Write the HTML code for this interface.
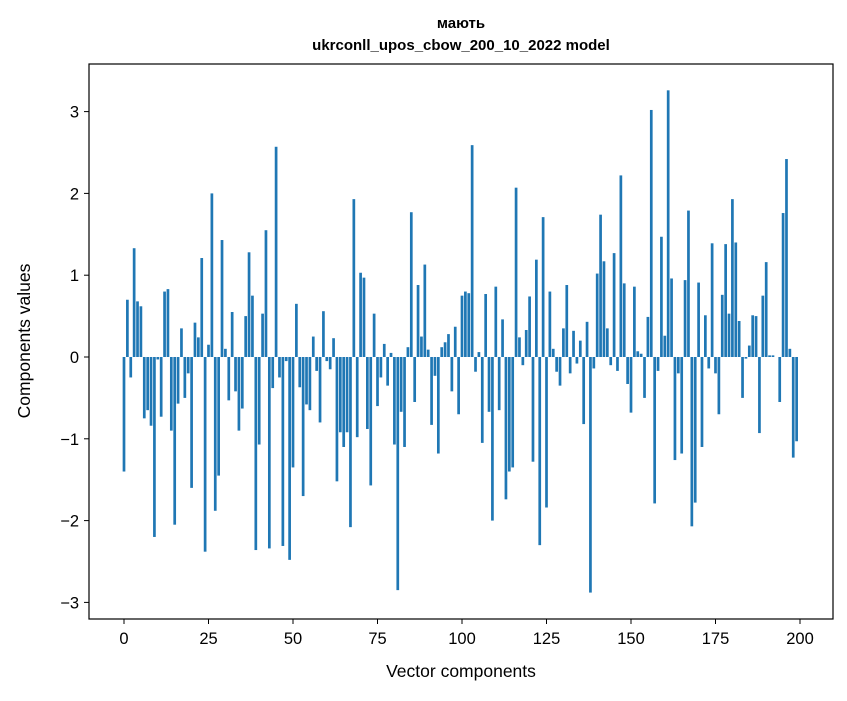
<!DOCTYPE html>
<html><head><meta charset="utf-8"><style>
body{margin:0;background:#fff;font-family:"Liberation Sans","DejaVu Sans",sans-serif}
</style></head><body>
<svg width="847" height="696" xmlns="http://www.w3.org/2000/svg">
<rect width="847" height="696" fill="#fff"/>
<text x="461" y="28" text-anchor="middle" font-weight="bold" font-size="15">мають</text>
<text x="461" y="50" text-anchor="middle" font-weight="bold" font-size="15">ukrconll_upos_cbow_200_10_2022 model</text>
<g id="bars"></g>
<g id="axes"></g>
<rect x="89" y="64" width="744" height="555" fill="none" stroke="#000" stroke-width="1.2"/>
<text x="461" y="677" text-anchor="middle" font-size="17.5">Vector components</text>
<text transform="translate(30,341) rotate(-90)" text-anchor="middle" font-size="17.5">Components values</text>
</svg>
<script>
const values=[-1.4,0.7,-0.25,1.33,0.68,0.62,-0.75,-0.65,-0.84,-2.2,-0.03,-0.73,0.8,0.83,-0.9,-2.05,-0.57,0.35,-0.5,-0.2,-1.6,0.42,0.24,1.21,-2.38,0.15,2.0,-1.88,-1.45,1.43,0.1,-0.53,0.55,-0.42,-0.9,-0.63,0.5,1.28,0.75,-2.36,-1.07,0.53,1.55,-2.34,-0.38,2.57,-0.25,-2.31,-0.05,-2.48,-1.35,0.65,-0.37,-1.7,-0.58,-0.65,0.25,-0.17,-0.8,0.56,-0.05,-0.15,0.23,-1.52,-0.92,-1.1,-0.92,-2.08,1.93,-0.98,1.03,0.97,-0.88,-1.57,0.53,-0.6,-0.25,0.16,-0.35,0.05,-1.07,-2.85,-0.67,-1.1,0.12,1.77,-0.55,0.88,0.25,1.13,0.09,-0.83,-0.23,-1.18,0.12,0.18,0.28,-0.42,0.37,-0.7,0.75,0.8,0.78,2.59,-0.18,0.06,-1.05,0.77,-0.67,-2.0,0.86,-0.65,0.46,-1.74,-1.4,-1.35,2.07,0.24,-0.1,0.33,0.74,-1.28,1.19,-2.3,1.71,-1.84,0.8,0.1,-0.18,-0.35,0.35,0.88,-0.2,0.32,-0.08,0.2,-0.82,0.43,-2.88,-0.14,1.02,1.74,1.17,0.35,-0.1,1.27,-0.17,2.22,0.9,-0.33,-0.68,0.86,0.07,0.04,-0.5,0.49,3.02,-1.79,-0.17,1.47,0.26,3.26,0.96,-1.26,-0.2,-1.18,0.94,1.79,-2.07,-1.78,0.91,-1.1,0.51,-0.14,1.39,-0.2,-0.7,0.76,1.38,0.53,1.93,1.4,0.44,-0.5,-0.02,0.14,0.51,0.5,-0.93,0.75,1.16,0.02,0.02,0.0,-0.55,1.76,2.42,0.1,-1.23,-1.03];
const xTicks=[0,25,50,75,100,125,150,175,200];
const yTicks=[-3,-2,-1,0,1,2,3];
const yTickLabels=["−3","−2","−1","0","1","2","3"];
const NS="http://www.w3.org/2000/svg";
const xs=v=>124+v*(800-124)/200;
const ys=v=>357-v*81.8;
const bars=document.getElementById('bars'),axes=document.getElementById('axes');
values.forEach((v,i)=>{
 const r=document.createElementNS(NS,'rect');
 
 
 const w=0.8*(800-124)/200;
 r.setAttribute('x',xs(i)-w/2);r.setAttribute('width',w);
 r.setAttribute('y',Math.min(ys(v),ys(0)));r.setAttribute('height',Math.abs(ys(v)-ys(0)));
 r.setAttribute('fill','#1f77b4');bars.appendChild(r);
});
xTicks.forEach(t=>{
 const l=document.createElementNS(NS,'line');
 
 
 l.setAttribute('x1',xs(t));l.setAttribute('x2',xs(t));l.setAttribute('y1',619);l.setAttribute('y2',624);l.setAttribute('stroke','#000');axes.appendChild(l);
 const tx=document.createElementNS(NS,'text');
 
 
 tx.setAttribute('x',xs(t));tx.setAttribute('y',644);tx.setAttribute('text-anchor','middle');tx.setAttribute('font-size','16.5');tx.textContent=t;axes.appendChild(tx);
});
yTicks.forEach((t,i)=>{
 const l=document.createElementNS(NS,'line');
 
 
 l.setAttribute('x1',84);l.setAttribute('x2',89);l.setAttribute('y1',ys(t));l.setAttribute('y2',ys(t));l.setAttribute('stroke','#000');axes.appendChild(l);
 const tx=document.createElementNS(NS,'text');
 
 
 tx.setAttribute('x',79);tx.setAttribute('y',ys(t)+6);tx.setAttribute('text-anchor','end');tx.setAttribute('font-size','16.5');tx.textContent=yTickLabels[i];axes.appendChild(tx);
});
</script>
</body></html>
